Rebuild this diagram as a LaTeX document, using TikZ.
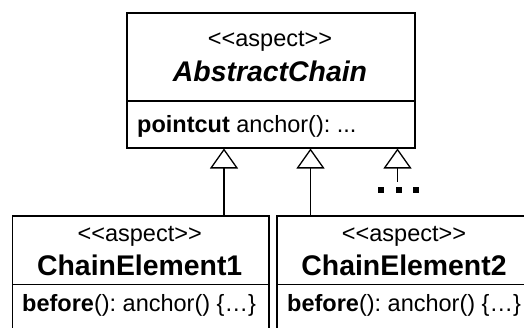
\documentclass[tikz,border=0pt]{standalone}
\usepackage{fontspec}
\setmainfont[Ligatures=NoCommon]{Liberation Sans}
\frenchspacing
\usetikzlibrary{arrows.meta}
\newcommand{\stereo}{<{}<aspect>{}>}
\tikzset{
  box/.style={draw=black, line width=1.5pt, inner sep=0pt, anchor=north west},
  txt/.style={inner sep=0pt, font=\fontsize{23.5}{28}\selectfont},
  ttl/.style={inner sep=0pt, font=\fontsize{28.4}{32}\selectfont\bfseries},
  gen/.style={draw=black, line width=1.3pt, -{Triangle[open, length=20pt, width=28pt, line width=1.3pt]}},
  dotsq/.style={fill=black, inner sep=0pt, minimum size=6pt}
}
\begin{document}
\begin{tikzpicture}[x=1pt, y=-1pt]
\useasboundingbox (0,0) rectangle (524,327);
\clip (0,0) rectangle (524,327);
% AbstractChain
\node[box, minimum width=288pt, minimum height=88pt] (acHead) at (126,12) {};
\node[box, minimum width=288pt, minimum height=47pt] (acBody) at (126,100) {};
\node[txt, anchor=base] (acSt) at (270,46) {\stereo};
\node[ttl, anchor=base] (acName) at (270,81.7) {\itshape AbstractChain};
\node[txt, anchor=base west] (acOp) at (137,132) {\textbf{pointcut} anchor(): ...};
% ChainElement1
\node[box, minimum width=256.5pt, minimum height=68.5pt] (ce1Head) at (11.5,215) {};
\node[box, minimum width=256.5pt, minimum height=60pt] (ce1Body) at (11.5,283.5) {};
\node[txt, anchor=base] (ce1St) at (139.7,241.5) {\stereo};
\node[ttl, anchor=base] (ce1Name) at (139.7,275.5) {ChainElement1};
\node[txt, anchor=base west] (ce1Op) at (22,311.5) {\textbf{before}(): anchor() \{\dots\}};
% ChainElement2
\node[box, minimum width=256pt, minimum height=68.5pt] (ce2Head) at (276,215) {};
\node[box, minimum width=256pt, minimum height=60pt] (ce2Body) at (276,283.5) {};
\node[txt, anchor=base] (ce2St) at (404,241.5) {\stereo};
\node[ttl, anchor=base] (ce2Name) at (404,275.5) {ChainElement2};
\node[txt, anchor=base west] (ce2Op) at (287,311.5) {\textbf{before}(): anchor() \{\dots\}};
% generalizations
\coordinate (g1) at (224,0);
\coordinate (g2) at (310.5,0);
\coordinate (g3) at (397.5,181.5);
\draw[gen] (ce1Head.north -| g1) -- (acBody.south -| g1);
\draw[gen] (ce2Head.north -| g2) -- (acBody.south -| g2);
\draw[gen] (g3) -- (acBody.south -| g3);
\node[dotsq] (d1) at (381,190) {};
\node[dotsq] (d2) at (399,190) {};
\node[dotsq] (d3) at (416,190) {};
\end{tikzpicture}
\end{document}
